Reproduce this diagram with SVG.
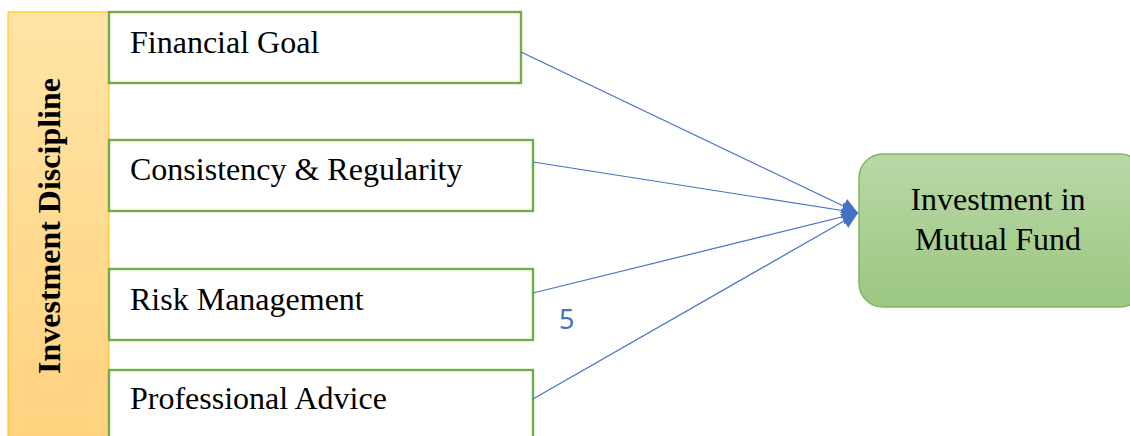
<svg xmlns="http://www.w3.org/2000/svg" width="1130" height="436" viewBox="0 0 1130 436">
<style>
.box{fill:#ffffff;stroke:#70AD47;stroke-width:2.4}
.lbl{font-family:"Liberation Serif","Times New Roman",serif;font-size:32px;fill:#000000}
.conn{stroke:#4472C4;stroke-width:1.2;fill:none;marker-end:url(#ah)}
</style>
<defs>
<linearGradient id="og" x1="0" y1="0" x2="0" y2="1">
<stop offset="0" stop-color="#FFE4A6"/>
<stop offset="1" stop-color="#FFD27E"/>
</linearGradient>
<linearGradient id="gg" x1="0" y1="0" x2="0" y2="1">
<stop offset="0" stop-color="#B8D8A6"/>
<stop offset="1" stop-color="#9CC782"/>
</linearGradient>
<marker id="ah" viewBox="0 0 10 10" refX="10" refY="5" markerWidth="16" markerHeight="16" markerUnits="userSpaceOnUse" orient="auto">
<path d="M0,0 L10,5 L0,10 z" fill="#4472C4"/>
</marker>
</defs>
<rect width="1130" height="436" fill="#ffffff"/>
<g id="investment-discipline">
<rect x="8" y="12" width="101" height="430" fill="url(#og)" stroke="#FFC000" stroke-width="1"/>
<text transform="translate(60,226) rotate(-90)" text-anchor="middle" font-family="'Liberation Serif','Times New Roman',serif" font-size="32" font-weight="bold" fill="#000000">Investment Discipline</text>
</g>
<g id="financial-goal">
<rect class="box" x="109" y="12" width="412" height="71"/>
<text class="lbl" x="130" y="53">Financial Goal</text>
</g>
<g id="consistency">
<rect class="box" x="109" y="140" width="424" height="71"/>
<text class="lbl" x="130" y="180">Consistency &amp; Regularity</text>
</g>
<g id="risk-management">
<rect class="box" x="109" y="269" width="424" height="71"/>
<text class="lbl" x="130" y="310">Risk Management</text>
</g>
<g id="professional-advice">
<rect class="box" x="109" y="370" width="424" height="80"/>
<text class="lbl" x="130" y="409">Professional Advice</text>
</g>
<g id="mutual-fund">
<rect x="859" y="154" width="285" height="153" rx="24" ry="24" fill="url(#gg)" stroke="#7EB75F" stroke-width="1.5"/>
<text class="lbl" x="998" y="210" text-anchor="middle">Investment in</text>
<text class="lbl" x="998" y="250" text-anchor="middle">Mutual Fund</text>
</g>
<g id="connectors">
<line class="conn" x1="521" y1="52" x2="858" y2="213"/>
<line class="conn" x1="533" y1="162" x2="858" y2="213"/>
<line class="conn" x1="533" y1="293" x2="858" y2="213"/>
<line class="conn" x1="533" y1="399" x2="858" y2="213"/>
</g>
<text x="559" y="329" font-family="'Noto Sans','Open Sans',sans-serif" font-size="27" fill="#4472C4">5</text>
</svg>
